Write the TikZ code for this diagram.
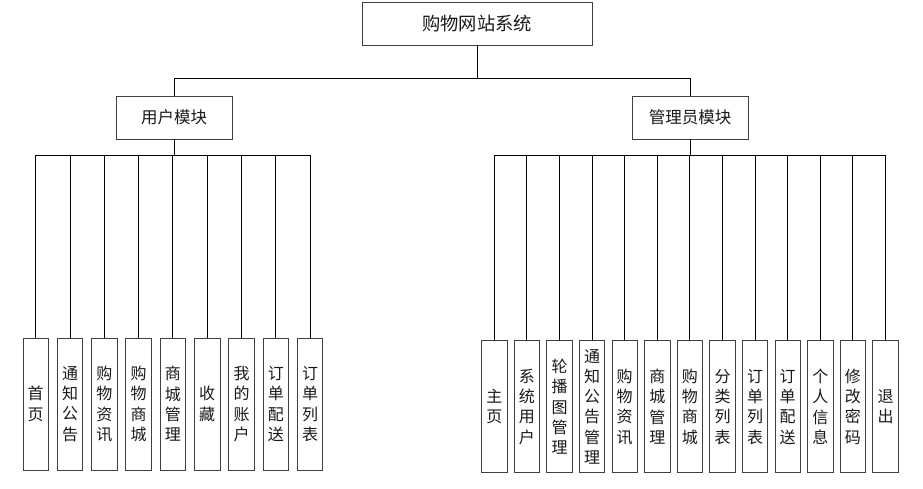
\documentclass[tikz,border=0pt]{standalone}
\usepackage{fontspec}
\setmainfont{Noto Sans CJK SC}
\usetikzlibrary{trees}

\begin{document}
\begin{tikzpicture}[%
    box/.style={draw=black!75, line width=0.9pt, inner sep=0pt, text=black!90},
    top box/.style={box, minimum width=230pt, minimum height=43pt,
        font=\fontsize{18.3}{20}\selectfont},
    module box/.style={box, minimum width=116pt, minimum height=43pt,
        font=\fontsize{16.5}{20}\selectfont},
    leaf box/.style={box, minimum width=25.5pt, minimum height=132pt,
        align=center, font=\fontsize{16}{20.3}\selectfont},
    edge from parent/.style={draw, line width=1pt},
    level 1/.style={
        edge from parent path={(\tikzparentnode.south) -- ++(0pt,-33pt) -| (\tikzchildnode.north)}
    },
    level 2/.style={
        edge from parent path={(\tikzparentnode.south) -- ++(0pt,-16pt) -| (\tikzchildnode.north)}
    }]
  \useasboundingbox (0pt,0pt) rectangle (923pt,-488pt);
  \node [top box] (shop) at (477pt,-23.5pt) {购物网站系统}
    [grow via three points={
        one child at (-303pt,-94pt) and two children at (-303pt,-94pt) and (213pt,-94pt)
    }]
    child { node [module box] (user) {用户模块}
      [grow via three points={
          one child at (-138.3pt,-286.5pt) and two children at (-138.3pt,-286.5pt) and (-104pt,-286.5pt)
      }]
      child { node [leaf box] (u home) {首\\页}}
      child { node [leaf box] (u notice) {通\\知\\公\\告}}
      child { node [leaf box] (u news) {购\\物\\资\\讯}}
      child { node [leaf box] (u mall) {购\\物\\商\\城}}
      child { node [leaf box] (u mall admin) {商\\城\\管\\理}}
      child { node [leaf box] (u fav) {收\\藏}}
      child { node [leaf box] (u account) {我\\的\\账\\户}}
      child { node [leaf box] (u delivery) {订\\单\\配\\送}}
      child { node [leaf box] (u orders) {订\\单\\列\\表}}
    }
    child { node [module box] (admin) {管理员模块}
      [grow via three points={
          one child at (-195.7pt,-289.2pt) and two children at (-195.7pt,-289.2pt) and (-163.1pt,-289.2pt)
      }]
      child { node [leaf box] (a home) {主\\页}}
      child { node [leaf box] (a users) {系\\统\\用\\户}}
      child { node [leaf box] (a banner) {轮\\播\\图\\管\\理}}
      child { node [leaf box] (a notice) {通\\知\\公\\告\\管\\理}}
      child { node [leaf box] (a news) {购\\物\\资\\讯}}
      child { node [leaf box] (a mall admin) {商\\城\\管\\理}}
      child { node [leaf box] (a mall) {购\\物\\商\\城}}
      child { node [leaf box] (a category) {分\\类\\列\\表}}
      child { node [leaf box] (a orders) {订\\单\\列\\表}}
      child { node [leaf box] (a delivery) {订\\单\\配\\送}}
      child { node [leaf box] (a profile) {个\\人\\信\\息}}
      child { node [leaf box] (a password) {修\\改\\密\\码}}
      child { node [leaf box] (a logout) {退\\出}}
    };
\end{tikzpicture}
\end{document}
